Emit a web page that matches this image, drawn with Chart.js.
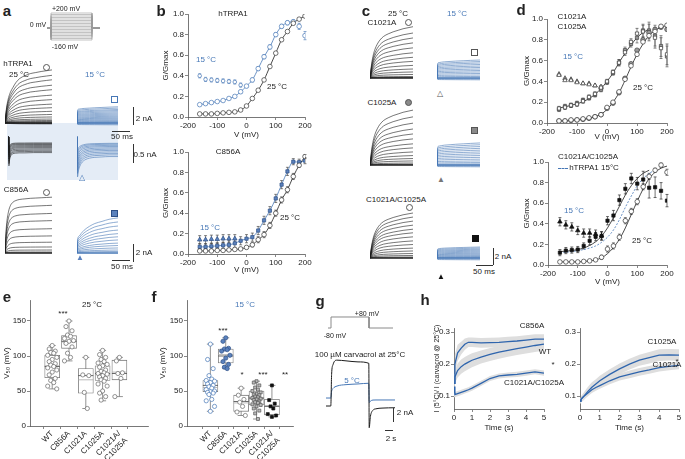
<!DOCTYPE html>
<html>
<head>
<meta charset="utf-8">
<script src="https://cdn.jsdelivr.net/npm/chart.js@4.4.1/dist/chart.umd.min.js"></script>
<style>
html, body { margin: 0; padding: 0; background: #fff; }
#fig { position: relative; width: 685px; height: 459px; overflow: hidden; font-family: 'Liberation Sans', Arial, sans-serif; color: #222; }
#fig canvas, #fig div { position: absolute; }
</style>
</head>
<body>
<div id="fig"></div>
<script>
// ---------- data ----------
const volts = [-160, -140, -120, -100, -80, -60, -40, -20, 0, 20, 40, 60, 80, 100, 120, 140, 160, 180, 200];

// b, hTRPA1 G/Gmax
const bTop25 = [0.03, 0.03, 0.03, 0.035, 0.04, 0.045, 0.05, 0.068, 0.107, 0.18, 0.26, 0.36, 0.49, 0.62, 0.75, 0.83, 0.91, 0.95, 0.98];
const bTop15 = [0.12, 0.13, 0.14, 0.15, 0.16, 0.18, 0.2, 0.245, 0.3, 0.36, 0.47, 0.585, 0.68, 0.8, 0.88, 0.915, 0.925, 0.88, 0.79];
const bTop15Err = [0.01, 0.01, 0.01, 0.01, 0.01, 0.01, 0.01, 0.015, 0.015, 0.02, 0.02, 0.02, 0.02, 0.02, 0.02, 0.02, 0.02, 0.03, 0.04];
const bTop15Neg = [0.40, 0.365, 0.36, 0.355, 0.35, 0.345, 0.34, 0.31];
const bTop15NegErr = [0.02, 0.02, 0.02, 0.02, 0.02, 0.02, 0.02, 0.02];
// b, C856A
const bBot25 = [0.03, 0.03, 0.03, 0.035, 0.035, 0.04, 0.045, 0.05, 0.065, 0.09, 0.14, 0.19, 0.28, 0.40, 0.53, 0.63, 0.76, 0.87, 0.955];
const bBot25Err = [0.01, 0.01, 0.01, 0.01, 0.01, 0.01, 0.01, 0.01, 0.015, 0.02, 0.03, 0.03, 0.03, 0.03, 0.03, 0.03, 0.03, 0.02, 0.02];
const bBot15 = [0.07, 0.07, 0.075, 0.08, 0.085, 0.09, 0.105, 0.13, 0.15, 0.165, 0.23, 0.33, 0.425, 0.545, 0.68, 0.81, 0.905, 0.9, 0.915];
const bBot15Err = [0.03, 0.03, 0.03, 0.03, 0.03, 0.04, 0.04, 0.04, 0.04, 0.04, 0.04, 0.04, 0.04, 0.04, 0.04, 0.04, 0.03, 0.03, 0.03];
const bBot15Neg = [0.14, 0.14, 0.145, 0.145, 0.15, 0.15, 0.15];
const bBot15NegErr = [0.04, 0.04, 0.04, 0.04, 0.04, 0.04, 0.04];

// d, C1021A (a) and C1025A (b)
const dTop25a = [0.02, 0.02, 0.03, 0.03, 0.04, 0.05, 0.06, 0.08, 0.15, 0.2, 0.3, 0.42, 0.55, 0.66, 0.78, 0.84, 0.88, 0.93, 0.94];
const dTop25b = [0.02, 0.02, 0.025, 0.03, 0.035, 0.045, 0.06, 0.08, 0.14, 0.19, 0.29, 0.43, 0.57, 0.7, 0.8, 0.87, 0.9, 0.92, 0.9];
const dTop15a = [0.14, 0.15, 0.17, 0.18, 0.21, 0.25, 0.28, 0.34, 0.4, 0.49, 0.58, 0.68, 0.78, 0.86, 0.88, 0.87, 0.82, 0.72, 0.66];
const dTop15b = [0.13, 0.16, 0.17, 0.19, 0.22, 0.24, 0.27, 0.32, 0.39, 0.48, 0.58, 0.7, 0.76, 0.82, 0.89, 0.89, 0.84, 0.74, 0.64];
const dTop15Err = [0.02, 0.02, 0.02, 0.02, 0.02, 0.02, 0.02, 0.02, 0.02, 0.02, 0.03, 0.03, 0.03, 0.05, 0.06, 0.08, 0.1, 0.1, 0.1];
const dTop15aNeg = [0.46, 0.41, 0.41, 0.39, 0.38, 0.37, 0.36, 0.35];
const dTop15bNeg = [0.47, 0.43, 0.42, 0.40, 0.38, 0.38, 0.36, 0.34];
const dTopFit25 = [0.02, 0.02, 0.025, 0.03, 0.035, 0.045, 0.06, 0.085, 0.13, 0.2, 0.29, 0.41, 0.54, 0.66, 0.76, 0.84, 0.89, 0.92, 0.94];
const dTopFit15 = [0.145, 0.155, 0.17, 0.185, 0.205, 0.235, 0.275, 0.33, 0.4, 0.48, 0.58, 0.67, 0.75, 0.82, 0.87, 0.9];
// d, C1021A/C1025A
const dBot25 = [0.03, 0.03, 0.03, 0.03, 0.035, 0.04, 0.05, 0.075, 0.155, 0.185, 0.27, 0.43, 0.52, 0.615, 0.76, 0.86, 0.92, 0.97, 0.90];
const dBot25Err = [0.01, 0.01, 0.01, 0.01, 0.01, 0.01, 0.01, 0.02, 0.03, 0.03, 0.03, 0.03, 0.03, 0.03, 0.03, 0.03, 0.02, 0.02, 0.03];
const dBot15 = [0.12, 0.14, 0.145, 0.15, 0.185, 0.235, 0.275, 0.28, 0.43, 0.48, 0.63, 0.74, 0.84, 0.79, 0.83, 0.75, 0.755, 0.72, 0.625];
const dBot15Err = [0.03, 0.03, 0.03, 0.03, 0.03, 0.04, 0.04, 0.04, 0.04, 0.05, 0.05, 0.05, 0.05, 0.06, 0.08, 0.1, 0.1, 0.08, 0.06];
const dBot15Neg = [0.42, 0.39, 0.37, 0.335, 0.31, 0.31, 0.30, 0.285];
const dBot15NegErr = [0.04, 0.04, 0.04, 0.04, 0.04, 0.04, 0.04, 0.04];
const dBotFit15 = [0.13, 0.135, 0.14, 0.15, 0.165, 0.19, 0.225, 0.28, 0.36, 0.46, 0.57, 0.68, 0.77, 0.84, 0.89, 0.92];
const dBotFit25 = [0.03, 0.03, 0.03, 0.03, 0.035, 0.04, 0.05, 0.07, 0.11, 0.17, 0.25, 0.36, 0.49, 0.62, 0.74, 0.84, 0.9, 0.94, 0.96];
const hTRPA1Fit15 = [0.12, 0.125, 0.13, 0.14, 0.15, 0.165, 0.185, 0.22, 0.27, 0.34, 0.44, 0.56, 0.67, 0.77, 0.84, 0.89, 0.92];

// e / f, V50 box plots
const groups = ['WT', 'C856A', 'C1021A', 'C1025A', ['C1021A/', 'C1025A']];
const e25 = [
  [115, 110, 107, 105, 104, 101, 98, 95, 92, 89, 87, 85, 83, 80, 77, 73, 68, 65, 62, 57, 53],
  [150, 142, 136, 130, 128, 125, 122, 121, 118, 113, 104, 98, 93],
  [98, 73, 72, 48, 25],
  [108, 102, 98, 95, 92, 90, 88, 86, 84, 80, 78, 76, 75, 74, 72, 70, 68, 66, 64, 60, 57, 50, 47, 42, 37],
  [98, 93, 76, 75, 68, 42]
];
const e25Q1 = [69, 111, 47, 65, 66], e25Q3 = [101, 129, 82, 86, 94];
const e25Med = [85, 121, 72, 75, 75], e25Mean = [86, 120, 66, 74, 77];
const e25Lo = [53, 93, 25, 36, 42], e25Hi = [115, 150, 98, 108, 98];
const f15 = [
  [117, 95, 82, 72, 67, 65, 64, 62, 60, 58, 56, 54, 52, 50, 49, 48, 47, 45, 38, 36, 28, 21],
  [126, 121, 111, 110, 109, 107, 101, 97, 92, 88, 84, 82],
  [54, 44, 38, 34, 28, 20, 15],
  [64, 62, 58, 55, 52, 50, 48, 46, 45, 44, 42, 41, 40, 39, 38, 37, 35, 34, 33, 31, 30, 28, 25, 22, 18, 10],
  [58, 37, 32, 28, 25, 17, 15, 13]
];
const f15Q1 = [49, 90, 21, 30, 16], f15Q3 = [65, 110, 44, 50, 38];
const f15Med = [58, 100, 35, 40, 28], f15Mean = [55, 102, 33, 39, 29];
const f15Lo = [21, 82, 15, 10, 13], f15Hi = [117, 126, 54, 64, 58];

// h, I(5 °C)/I(carvacrol @ 25 °C)
const hTime = [0, 0.05, 0.2, 0.4, 0.6, 0.8, 1, 1.5, 2, 2.5, 3, 3.5, 4, 4.5, 5];
const hC856A = [0.14, 0.2, 0.235, 0.25, 0.262, 0.268, 0.268, 0.266, 0.267, 0.268, 0.27, 0.272, 0.275, 0.278, 0.278];
const hC856AErr = [0.03, 0.03, 0.025, 0.02, 0.018, 0.015, 0.015, 0.015, 0.015, 0.015, 0.015, 0.015, 0.015, 0.015, 0.015];
const hWT = [0.14, 0.16, 0.18, 0.192, 0.2, 0.206, 0.212, 0.222, 0.23, 0.237, 0.243, 0.248, 0.253, 0.258, 0.262];
const hWTErr = [0.02, 0.02, 0.022, 0.022, 0.022, 0.022, 0.022, 0.02, 0.02, 0.02, 0.02, 0.02, 0.02, 0.02, 0.02];
const hDouble = [0.13, 0.105, 0.108, 0.112, 0.116, 0.12, 0.125, 0.14, 0.155, 0.163, 0.166, 0.168, 0.172, 0.176, 0.172];
const hDoubleErr = [0.01, 0.008, 0.008, 0.008, 0.008, 0.008, 0.008, 0.008, 0.008, 0.008, 0.008, 0.008, 0.008, 0.008, 0.008];
const hC1025A = [0.085, 0.09, 0.1, 0.115, 0.128, 0.138, 0.148, 0.168, 0.185, 0.2, 0.212, 0.22, 0.228, 0.229, 0.228];
const hC1025AErr = [0.01, 0.01, 0.012, 0.014, 0.015, 0.015, 0.016, 0.016, 0.017, 0.017, 0.017, 0.018, 0.018, 0.018, 0.018];
const hC1021A = [0.085, 0.09, 0.1, 0.11, 0.12, 0.127, 0.133, 0.148, 0.16, 0.168, 0.176, 0.182, 0.189, 0.193, 0.196];
const hC1021AErr = [0.008, 0.008, 0.009, 0.01, 0.01, 0.01, 0.01, 0.011, 0.011, 0.012, 0.012, 0.012, 0.012, 0.012, 0.012];

// current traces: time (ms) and normalised time course, amplitudes in nA
const t25 = [0, 2, 5, 10, 15, 22, 30, 41, 55, 70, 85, 100, 115, 130];
const shape25 = [0, 0.15, 0.32, 0.48, 0.58, 0.67, 0.76, 0.84, 0.89, 0.93, 0.95, 0.97, 0.985, 1];
const shapeC856A = [0, 0.3, 0.55, 0.75, 0.85, 0.91, 0.94, 0.96, 0.97, 0.98, 0.985, 0.99, 0.995, 1];
const shapeMut = [0, 0.12, 0.28, 0.45, 0.56, 0.66, 0.74, 0.81, 0.86, 0.9, 0.93, 0.96, 0.98, 1];
const t15 = [0, 2, 6, 12, 20, 35, 50, 70, 90, 115];
const shape15 = [0, 0.82, 0.86, 0.88, 0.9, 0.92, 0.94, 0.96, 0.98, 1];
const shapeC856A15 = [0, 0.4, 0.48, 0.56, 0.65, 0.76, 0.84, 0.9, 0.96, 1];
const tTail25 = [0, 2, 2.5, 4, 6, 9, 13, 20, 30, 45, 70, 95, 120];
const shapeTail25 = [0, 0, 1, 0.82, 0.7, 0.62, 0.58, 0.56, 0.55, 0.55, 0.54, 0.54, 0.54];
const tTail15 = [0, 1, 1.5, 4, 8, 12, 18, 25, 35, 50, 70, 90, 115];
const shapeTail15 = [0, 0, 1, 0.85, 0.73, 0.66, 0.6, 0.56, 0.53, 0.51, 0.5, 0.49, 0.49];

const wt25Amps = [5.9, 5.3, 4.8, 4.2, 3.7, 3.1, 2.6, 2.1, 1.7, 1.3, 0.95, 0.67, 0.44, 0.28, 0.17, 0.08, -0.05, -0.1];
const wt15Amps = [1.8, 1.65, 1.5, 1.38, 1.25, 1.12, 1.0, 0.88, 0.76, 0.65, 0.54, 0.44, 0.34, 0.25, 0.16, 0.08, -0.1, -0.2];
const wtTail25Amps = [-0.76, -0.7, -0.64, -0.58, -0.52, -0.47, -0.42, -0.37, -0.33, -0.29];
const wtTail15Amps = [-1.05, -0.96, -0.88, -0.8, -0.72, -0.65, -0.58, -0.51, -0.45, -0.39, -0.34];
const c856a25Amps = [6.2, 5.3, 4.4, 3.6, 2.7, 1.9, 1.2, 0.67, 0.33, 0.11];
const c856a15Amps = [3.9, 3.45, 3.0, 2.55, 2.15, 1.8, 1.45, 1.1, 0.83, 0.56, 0.33, 0.17];
const c1021a25Amps = [5.7, 5.0, 4.45, 3.9, 3.35, 2.8, 2.3, 1.85, 1.4, 1.0, 0.67, 0.39, 0.17, 0.06];
const c1021a15Amps = [2.0, 1.83, 1.67, 1.5, 1.33, 1.17, 1.0, 0.83, 0.67, 0.5, 0.33, 0.17, -0.1, -0.2];
const c1025a25Amps = [6.1, 5.35, 4.65, 4.0, 3.45, 2.9, 2.35, 1.9, 1.45, 1.05, 0.72, 0.45, 0.22, 0.08];
const c1025a15Amps = [2.45, 2.25, 2.05, 1.85, 1.65, 1.45, 1.25, 1.05, 0.85, 0.65, 0.45, 0.27, 0.12, -0.1, -0.2];
const dbl25Amps = [5.0, 4.55, 4.1, 3.65, 3.2, 2.8, 2.35, 1.9, 1.5, 1.1, 0.78, 0.5, 0.28, 0.11];
const dbl15Amps = [1.22, 1.1, 0.98, 0.87, 0.76, 0.65, 0.54, 0.44, 0.34, 0.25, 0.16, 0.08, -0.1, -0.2];

// g, carvacrol record (s, nA) and its voltage protocol
const gTime = [1, 2.2, 2.4, 2.75, 3.75, 6, 9, 11.7, 11.8, 12.1, 12.75, 13.5, 15, 18.25];
const g25 = [0, 0, 4.5, 5.9, 6.55, 6.45, 6.3, 6.1, -3.1, -1.5, -0.6, -0.4, -0.3, -0.25];
const g5 = [1.14, 1.14, 2.1, 2.5, 2.85, 3.05, 3.15, 3.25, 0.5, 0.7, 0.85, 0.86, 0.86, 0.86];
const gProtoT = [1.5, 2.25, 2.25, 11.75, 11.75, 17.75];
const gProtoV = [-80, -80, 80, 80, -80, -80];

// ---------- drawing ----------
const BLUE = '#4677b6', BLUEFILL = '#5b82bd', BLUEDARK = '#2d4f86', INK = '#1b1b1b';
const fig = document.getElementById('fig');
Chart.defaults.font.family = "'Liberation Sans', Arial, sans-serif";
Chart.defaults.font.size = 8;
Chart.defaults.color = '#222';
Chart.defaults.animation = false;
Chart.defaults.responsive = false;
Chart.defaults.events = [];
Chart.defaults.plugins.legend.display = false;
Chart.defaults.plugins.tooltip.enabled = false;

function mk(x, y, w, h) {
  const c = document.createElement('canvas');
  c.width = w; c.height = h;
  c.style.left = x + 'px'; c.style.top = y + 'px';
  c.style.width = w + 'px'; c.style.height = h + 'px';
  fig.appendChild(c);
  return c;
}

function txt(s, cx, cy, o = {}) {
  const d = document.createElement('div');
  d.textContent = s;
  d.style.cssText = `left:${cx}px;top:${cy}px;transform:translate(-50%,-50%);white-space:nowrap;line-height:1;` +
    `font-size:${o.size || 8}px;color:${o.color || '#222'};font-weight:${o.bold ? 'bold' : 'normal'}`;
  fig.appendChild(d);
}

function bar(x1, y1, x2, y2, color, dash) {
  const d = document.createElement('div');
  const horiz = y1 === y2;
  d.style.cssText = horiz
    ? `left:${x1}px;top:${y1}px;width:${x2 - x1}px;height:0;border-top:1px ${dash ? 'dashed' : 'solid'} ${color || '#333'}`
    : `left:${x1}px;top:${y1}px;width:0;height:${y2 - y1}px;border-left:1px solid ${color || '#333'}`;
  fig.appendChild(d);
}

function mark(kind, cx, cy, fill, stroke, size) {
  const d = document.createElement('div');
  if (kind === 'tri') {
    d.textContent = fill ? '▲' : '△';
    d.style.cssText = `left:${cx}px;top:${cy}px;transform:translate(-50%,-50%);font-size:${size}px;line-height:1;color:${fill || stroke}`;
  } else {
    d.style.cssText = `left:${cx - size / 2}px;top:${cy - size / 2}px;width:${size - 2}px;height:${size - 2}px;` +
      `border:1px solid ${stroke};background:${fill || 'transparent'};border-radius:${kind === 'circle' ? '50%' : '0'}`;
  }
  fig.appendChild(d);
}

// chart without axes: box = [left, top, width, height], ranges in data units
function plain(box, xr, yr, datasets) {
  const c = mk(box[0], box[1], box[2], box[3]);
  return new Chart(c, {type: 'line', data: {datasets}, options: {
    layout: {padding: 0},
    elements: {point: {radius: 0}, line: {cubicInterpolationMode: 'monotone'}},
    scales: {x: {type: 'linear', display: false, min: xr[0], max: xr[1]},
             y: {type: 'linear', display: false, min: yr[0], max: yr[1]}}
  }});
}

// family of current traces: amplitude x time course
// place = [left, top, width, baselineY, bottom]
function family(place, t, shape, amps, color, opts = {}) {
  const [x, top, w, base, bottom] = place;
  const k = opts.pxPerNa || 9;
  const ds = amps.map(a => ({
    data: t.map((tt, i) => ({x: tt, y: a * shape[i]})),
    borderColor: color, borderWidth: opts.lw || 0.6
  }));
  if (!opts.noBase) ds.push({data: [{x: t[0], y: 0}, {x: t[t.length - 1], y: 0}], borderColor: color, borderWidth: 1.4});
  plain([x, top, w, bottom - top], [t[0], t[t.length - 1]], [-(bottom - base) / k, (base - top) / k], ds);
}

function axis(min, max, step, title, fmt, tsize) {
  return {
    type: 'linear', min, max,
    grid: {drawOnChartArea: false, tickLength: 3, color: '#555', lineWidth: 0.7},
    border: {color: '#555', width: 0.8},
    ticks: {stepSize: step, includeBounds: false, padding: 1, color: '#222', font: {size: 8}, callback: fmt || (v => v)},
    title: {display: !!title, text: title || '', padding: 0, color: '#222', font: {size: tsize || 8}}
  };
}

// area = [left, top, right, bottom] of the plot area in page pixels
function axisChart(area, yw, xh, xs, ys, datasets, plugins, type) {
  const padT = 6, padR = 9;
  const c = mk(area[0] - yw, area[1] - padT, area[2] - area[0] + yw + padR, area[3] - area[1] + padT + xh);
  xs.afterFit = s => { s.height = xh; };
  ys.afterFit = s => { s.width = yw; };
  return new Chart(c, {type: type || 'scatter', data: {datasets}, options: {
    layout: {padding: {top: padT, right: padR, left: 0, bottom: 0}},
    scales: {x: xs, y: ys}
  }, plugins: plugins || []});
}

const pts = (xs, vals) => vals.map((v, i) => ({x: xs[i], y: v}));
const one = v => v.toFixed(1);

function marks(vals, shape, fill, stroke, extra) {
  return Object.assign({data: pts(volts, vals), showLine: false, pointStyle: shape,
    pointRadius: shape === 'triangle' ? 2.6 : 2.3, borderWidth: 0.7,
    backgroundColor: fill, borderColor: stroke, order: 0}, extra || {});
}
function curve(vals, color, extra) {
  return Object.assign({data: pts(volts, vals), showLine: true, pointRadius: 0, borderWidth: 0.8,
    borderColor: color, backgroundColor: color, cubicInterpolationMode: 'monotone', order: 2}, extra || {});
}

// s.e.m. bars behind the markers
const errBars = {id: 'errBars', beforeDatasetsDraw(chart) {
  const ctx = chart.ctx, y = chart.scales.y;
  chart.data.datasets.forEach((ds, di) => {
    if (!ds.errs) return;
    const meta = chart.getDatasetMeta(di);
    ctx.save();
    ctx.strokeStyle = ds.errColor || ds.borderColor;
    ctx.lineWidth = 0.6;
    ctx.beginPath();
    meta.data.forEach((p, i) => {
      const e = ds.errs[i];
      if (!e) return;
      const y1 = y.getPixelForValue(ds.data[i].y + e), y2 = y.getPixelForValue(ds.data[i].y - e);
      ctx.moveTo(p.x, y1); ctx.lineTo(p.x, y2);
      ctx.moveTo(p.x - 1.5, y1); ctx.lineTo(p.x + 1.5, y1);
      ctx.moveTo(p.x - 1.5, y2); ctx.lineTo(p.x + 1.5, y2);
    });
    ctx.stroke();
    ctx.restore();
  });
}};

// whiskers, medians and means for the box plots
const boxBits = {
  id: 'boxBits',
  beforeDatasetsDraw(chart) {
    const ds = chart.data.datasets[0], x = chart.scales.x, y = chart.scales.y, ctx = chart.ctx;
    ctx.save();
    ctx.strokeStyle = '#777'; ctx.lineWidth = 0.8;
    ctx.beginPath();
    ds.lo.forEach((lo, i) => {
      const px = x.getPixelForValue(i), a = y.getPixelForValue(lo), b = y.getPixelForValue(ds.hi[i]);
      ctx.moveTo(px, a); ctx.lineTo(px, b);
      ctx.moveTo(px - 3.5, a); ctx.lineTo(px + 3.5, a);
      ctx.moveTo(px - 3.5, b); ctx.lineTo(px + 3.5, b);
    });
    ctx.stroke();
    ctx.restore();
  },
  afterDatasetDraw(chart, args) {
    if (args.index !== 0) return;
    const ds = chart.data.datasets[0], x = chart.scales.x, y = chart.scales.y, ctx = chart.ctx;
    ctx.save();
    ctx.lineWidth = 0.8;
    [[ds.mean, '#aaa'], [ds.med, '#444']].forEach(([vals, col]) => {
      ctx.strokeStyle = col;
      ctx.beginPath();
      vals.forEach((v, i) => {
        const px = x.getPixelForValue(i), py = y.getPixelForValue(v);
        ctx.moveTo(px - 7.5, py); ctx.lineTo(px + 7.5, py);
      });
      ctx.stroke();
    });
    ctx.restore();
  }
};

const jitter = [0, -0.18, 0.18, -0.09, 0.09, -0.27, 0.27];

function boxChart(area, yw, xr, q1, q3, med, mean, lo, hi, sets, styles) {
  const xs = axis(xr[0], xr[1], 1, '', v => groups[v]);
  xs.afterBuildTicks = s => { s.ticks = groups.map((g, i) => ({value: i})); };
  Object.assign(xs.ticks, {minRotation: 45, maxRotation: 45, autoSkip: false, padding: 0});
  const ys = axis(0, 180, 50, 'V₅₀ (mV)');
  const ds = [{type: 'bar', data: q1.map((v, i) => ({x: i, y: [v, q3[i]]})), backgroundColor: '#fff',
    borderColor: '#777', borderWidth: 0.8, borderSkipped: false, barThickness: 15, order: 3,
    med, mean, lo, hi}];
  sets.forEach((vals, gi) => ds.push({
    data: vals.map((v, k) => ({x: gi + jitter[k % jitter.length], y: v})),
    pointStyle: styles[gi][0], pointRadius: 2.1, borderWidth: 0.7,
    backgroundColor: styles[gi][1], borderColor: styles[gi][2], order: 0
  }));
  axisChart(area, yw, 33, xs, ys, ds, [boxBits]);
}

function band(mean, err, color) {
  return [
    {data: pts(hTime, mean.map((m, i) => m + err[i])), borderWidth: 0, pointRadius: 0, fill: '+1', backgroundColor: '#dedede', order: 1},
    {data: pts(hTime, mean.map((m, i) => m - err[i])), borderWidth: 0, pointRadius: 0, fill: false, order: 1},
    {data: pts(hTime, mean), borderColor: color, borderWidth: 1.3, pointRadius: 0, order: 0}
  ];
}

function hChart(area, yw, title, sets) {
  const xs = axis(0, 5, 1, 'Time (s)');
  const ys = axis(0.06, 0.3125, 0.1, title, one, 7);
  axisChart(area, yw, 24, xs, ys, sets.flat(), [], 'line');
}

// ---- a ----
plain([47, 11, 53, 31], [0, 53], [-186.7, 226.7], volts.map(v => ({
  data: [{x: 0, y: 0}, {x: 4, y: 0}, {x: 4, y: v}, {x: 45, y: v}, {x: 45, y: 0}, {x: 53, y: 0}],
  borderColor: '#9a9a9a', borderWidth: 0.6, cubicInterpolationMode: 'default', tension: 0
})));
const shade = document.createElement('div');
shade.style.cssText = 'left:7px;top:123px;width:111px;height:57px;background:#e4ecf6';
fig.appendChild(shade);
family([5, 66, 47, 123, 127], t25, shape25, wt25Amps, INK);
family([77, 104, 41, 123, 127], t15, shape15, wt15Amps, BLUE);
family([8, 124, 44, 137, 180], tTail25, shapeTail25, wtTail25Amps, INK, {pxPerNa: 38, noBase: true});
family([77, 124, 41, 137, 180], tTail15, shapeTail15, wtTail15Amps, BLUE, {pxPerNa: 38, noBase: true});
family([5, 194, 47, 253, 257], t25, shapeC856A, c856a25Amps, INK);
family([77, 214, 41, 253, 257], t15, shapeC856A15, c856a15Amps, BLUE);

// ---- c ----
family([370, 24, 43, 78, 82], t25, shapeMut, c1021a25Amps, INK);
family([437, 57, 43, 78, 82], t15, shape15, c1021a15Amps, BLUE);
family([370, 107, 43, 165, 169], t25, shapeMut, c1025a25Amps, INK);
family([437, 140, 43, 165, 169], t15, shape15, c1025a15Amps, BLUE);
family([370, 210, 43, 258, 262], t25, shapeMut, dbl25Amps, INK);
family([437, 244, 43, 258, 262], t15, shape15, dbl15Amps, BLUE);

// ---- b ----
axisChart([188, 14, 305, 117], 27, 23, axis(-200, 200, 100, 'V (mV)'), axis(0, 1, 0.2, 'G/Gmax', one), [
  curve(bTop25, INK),
  curve(bTop15.slice(0, 17), BLUE),
  marks(bTop25, 'circle', '#fff', '#333'),
  marks(bTop15, 'circle', '#fff', BLUE, {errs: bTop15Err}),
  marks(bTop15Neg, 'circle', '#fff', BLUE, {pointRadius: 1.8, errs: bTop15NegErr})
], [errBars]);
axisChart([188, 152, 305, 254], 27, 21, axis(-200, 200, 100, 'V (mV)'), axis(0, 1, 0.2, 'G/Gmax', one), [
  curve(bBot25, INK),
  curve(bBot15, BLUE),
  marks(bBot25, 'circle', '#fff', '#333', {errs: bBot25Err}),
  marks(bBot15, 'rect', BLUEFILL, BLUEDARK, {errs: bBot15Err, errColor: '#333'}),
  marks(bBot15Neg, 'triangle', BLUEFILL, BLUEDARK, {errs: bBot15NegErr, errColor: '#333'})
], [errBars]);

// ---- d ----
axisChart([547, 19, 667, 123], 25, 19, axis(-200, 200, 100, 'V (mV)'), axis(0, 1, 0.2, 'G/Gmax', one), [
  curve(dTopFit25, INK),
  curve(dTopFit15, INK),
  marks(dTop25a, 'circle', '#fff', '#333'),
  marks(dTop25b, 'circle', '#9a9a9a', '#444'),
  marks(dTop15a, 'rect', '#fff', '#333', {errs: dTop15Err}),
  marks(dTop15b, 'rect', '#9a9a9a', '#444', {errs: dTop15Err}),
  marks(dTop15aNeg, 'triangle', '#fff', '#333'),
  marks(dTop15bNeg, 'triangle', '#9a9a9a', '#444')
], [errBars]);
axisChart([548, 162, 667, 265], 26, 22, axis(-200, 200, 100, 'V (mV)'), axis(0, 1, 0.2, 'G/Gmax', one), [
  curve(dBotFit15, INK),
  curve(dBotFit25, INK),
  curve(hTRPA1Fit15, BLUE, {borderDash: [2, 1.5]}),
  marks(dBot25, 'circle', '#fff', '#333', {errs: dBot25Err}),
  marks(dBot15, 'rect', '#111', '#111', {errs: dBot15Err}),
  marks(dBot15Neg, 'triangle', '#111', '#111', {errs: dBot15NegErr})
], [errBars]);

// ---- e, f ----
const grey = ['circle', '#fff', '#666'];
boxChart([30, 300, 148, 426], 28, [-0.62, 5.0], e25Q1, e25Q3, e25Med, e25Mean, e25Lo, e25Hi, e25,
  [grey, grey, grey, grey, grey]);
boxChart([187, 300, 293, 426], 29, [-0.83, 4.68], f15Q1, f15Q3, f15Med, f15Mean, f15Lo, f15Hi, f15,
  [['circle', '#fff', BLUE], ['circle', BLUEFILL, BLUEDARK], grey, ['rect', '#bbb', '#555'], ['rect', '#111', '#111']]);

// ---- g ----
plain([322, 314, 74, 17], [0, 18.5], [-123.6, 123.6], [
  {data: pts(gProtoT, gProtoV), borderColor: '#8a8a8a', borderWidth: 1, cubicInterpolationMode: 'default', tension: 0}
]);
plain([322, 352, 74, 80], [0, 18.5], [-26 / 7, 54 / 7], [
  {data: pts(gTime, g25), borderColor: INK, borderWidth: 1},
  {data: pts(gTime, g5), borderColor: BLUE, borderWidth: 1}
]);

// ---- h ----
hChart([454, 328, 544, 409], 21, 'I (5°C)/ I (carvacrol @ 25°C)', [
  band(hC856A, hC856AErr, '#2f65ad'), band(hWT, hWTErr, '#2f65ad'), band(hDouble, hDoubleErr, '#2f65ad')
]);
hChart([580, 328, 679, 409], 16, '', [
  band(hC1025A, hC1025AErr, '#2f65ad'), band(hC1021A, hC1021AErr, '#2f65ad')
]);

// ---- text, markers, scale bars ----
const big = {size: 15, bold: 1}, blue = {color: BLUE};
txt('a', 7, 10, big); txt('b', 161, 10, big); txt('c', 366, 10, big); txt('d', 521, 9, big);
txt('e', 7, 296, big); txt('f', 154, 296, big); txt('g', 320, 300, big); txt('h', 425, 299, big);

txt('+200 mV', 66, 8, {size: 7}); txt('0 mV', 38, 24, {size: 7}); txt('-160 mV', 65, 46, {size: 7});
bar(38 + 9, 27, 51, 27, '#9a9a9a');
txt('hTRPA1', 18, 64); txt('25 °C', 19, 75); txt('15 °C', 95, 75, blue);
txt('2 nA', 144, 119); txt('50 ms', 122, 137); txt('0.5 nA', 145, 155);
txt('C856A', 16, 190); txt('2 nA', 144, 253); txt('50 ms', 122, 267);
bar(133, 107, 133, 125); bar(112, 131, 130, 131); bar(133, 144, 133, 163);
bar(133, 244, 133, 262); bar(112, 260, 130, 260);
mark('circle', 46, 67, null, '#555', 7); mark('square', 114, 99, null, BLUE, 7);
mark('tri', 82, 178, null, BLUE, 8);
mark('circle', 46, 192, null, '#555', 7); mark('square', 114, 213, BLUEFILL, BLUEDARK, 7);
mark('tri', 80, 258, BLUEFILL, BLUEDARK, 8);

txt('hTRPA1', 233, 14); txt('15 °C', 206, 60, blue); txt('25 °C', 277, 87);
txt('C856A', 228, 152); txt('15 °C', 210, 228, blue); txt('25 °C', 290, 218);

txt('25 °C', 398, 14); txt('15 °C', 457, 14, blue);
txt('C1021A', 382, 23); txt('C1025A', 382, 103); txt('C1021A/C1025A', 396, 200);
txt('2 nA', 503, 257); txt('50 ms', 484, 272);
bar(493, 248, 493, 265); bar(476, 265, 493, 265);
mark('circle', 408, 22, null, '#555', 7); mark('square', 474, 52, null, '#555', 7); mark('tri', 440, 94, null, '#555', 8);
mark('circle', 408, 102, '#8a8a8a', '#555', 7); mark('square', 474, 130, '#8a8a8a', '#555', 7); mark('tri', 441, 180, '#777', '#555', 8);
mark('circle', 409, 207, null, '#555', 7); mark('square', 475, 238, '#111', '#111', 7); mark('tri', 441, 277, '#111', '#111', 8);

txt('C1021A', 572, 17); txt('C1025A', 572, 27); txt('15 °C', 573, 57, blue); txt('25 °C', 643, 88);
txt('C1021A/C1025A', 588, 157); txt('hTRPA1 15°C', 594, 168); bar(558, 168, 568, 168, BLUE, true);
txt('15 °C', 574, 211, blue); txt('25 °C', 642, 241);

txt('25 °C', 92, 305); txt('***', 63, 314);
txt('15 °C', 245, 305, blue); txt('***', 223, 331); txt('*', 242, 375); txt('***', 263, 375); txt('**', 285, 375);

txt('+80 mV', 367, 313, {size: 7}); txt('-80 mV', 335, 335, {size: 7});
txt('100 µM carvacrol at 25°C', 360, 355); txt('5 °C', 352, 381, blue);
txt('2 nA', 405, 413); txt('2 s', 391, 439);
bar(393, 408, 393, 422); bar(385, 430, 393, 430);

txt('C856A', 532, 326); txt('WT', 545, 352); txt('*', 553, 365); txt('C1021A/C1025A', 534, 383);
txt('C1025A', 662, 342); txt('*', 677, 362); txt('C1021A', 667, 365);
</script>
</body>
</html>
